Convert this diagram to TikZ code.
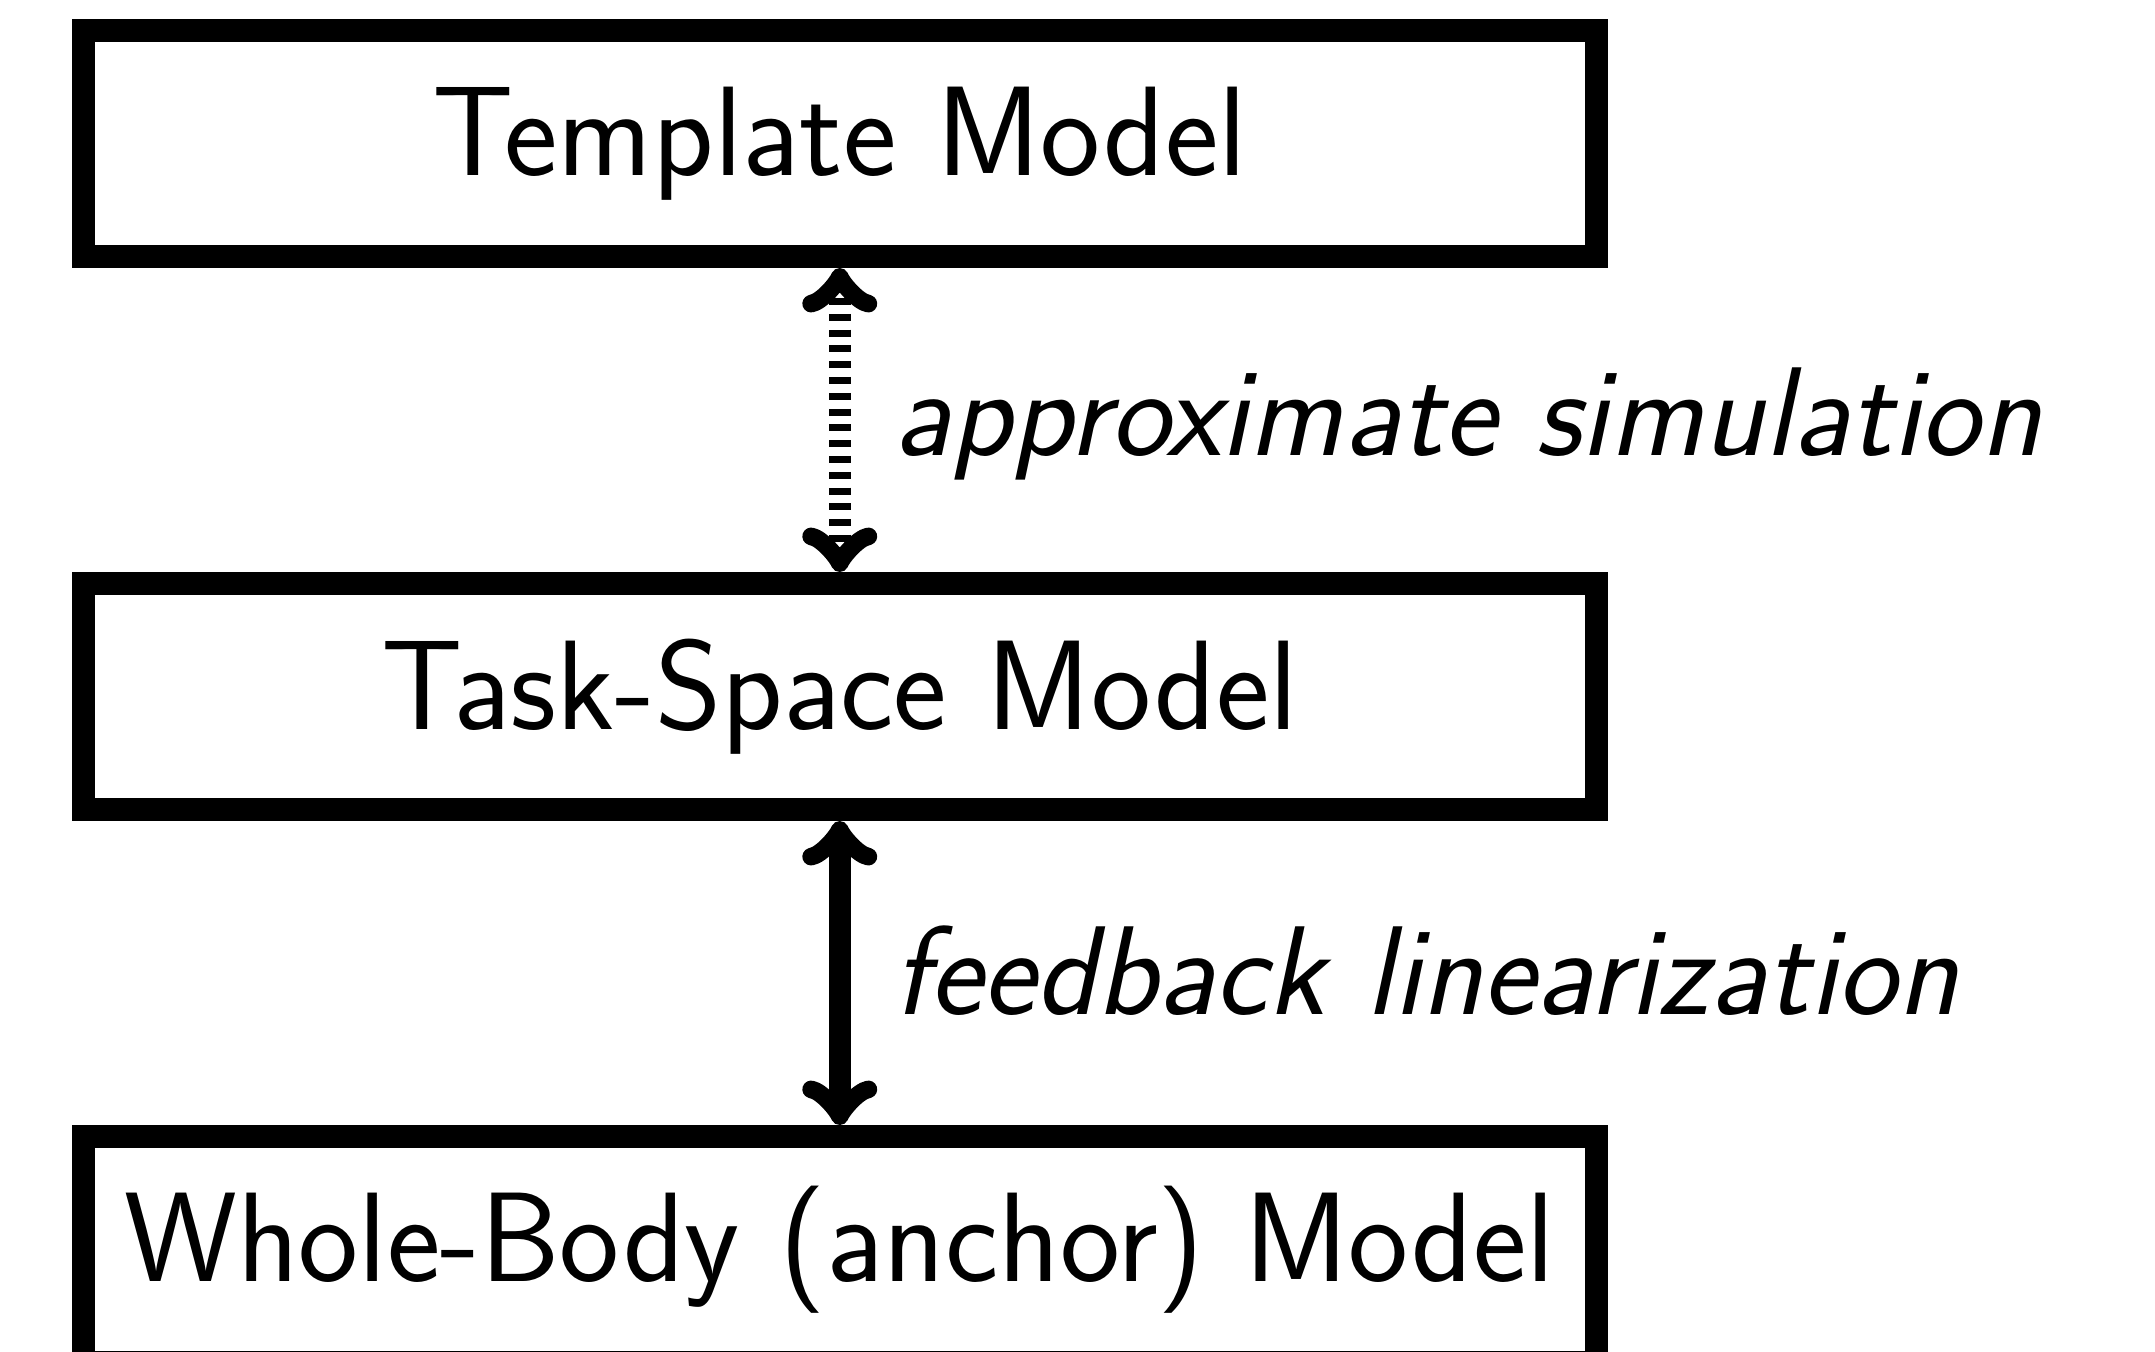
\documentclass[tikz,border=0pt]{standalone}
\begin{document}
\begin{tikzpicture}[x=0.5pt,y=-0.5pt,
  modelbox/.style={draw=black,line width=11.5pt,rectangle,inner sep=0pt,
    minimum width=756.25pt,minimum height=113pt,
    font=\sffamily\fontsize{63.7}{76}\selectfont},
  linklabel/.style={inner sep=0pt,anchor=base west,
    font=\sffamily\itshape\fontsize{63.2}{76}\selectfont},
  link/.style={line width=11pt,<->},
  dashedlink/.style={link,dash pattern=on 3.5pt off 4.4pt}]
\useasboundingbox (0,0) rectangle (2155,1351);

\node[modelbox] (template) at (839.75,143.5) {Template Model};
\node[modelbox] (task) at (839.75,696.5) {Task-Space Model};
\node[modelbox] (whole) at (839.75,1249.5) {Whole-Body (anchor) Model};

\draw[dashedlink] (template.south) -- (task.north);
\draw[link] (task.south) -- (whole.north);

\node[linklabel] (approx) at (893,455) {approximate simulation};
\node[linklabel] (fblin) at (893,1014) {feedback linearization};
\end{tikzpicture}
\end{document}
